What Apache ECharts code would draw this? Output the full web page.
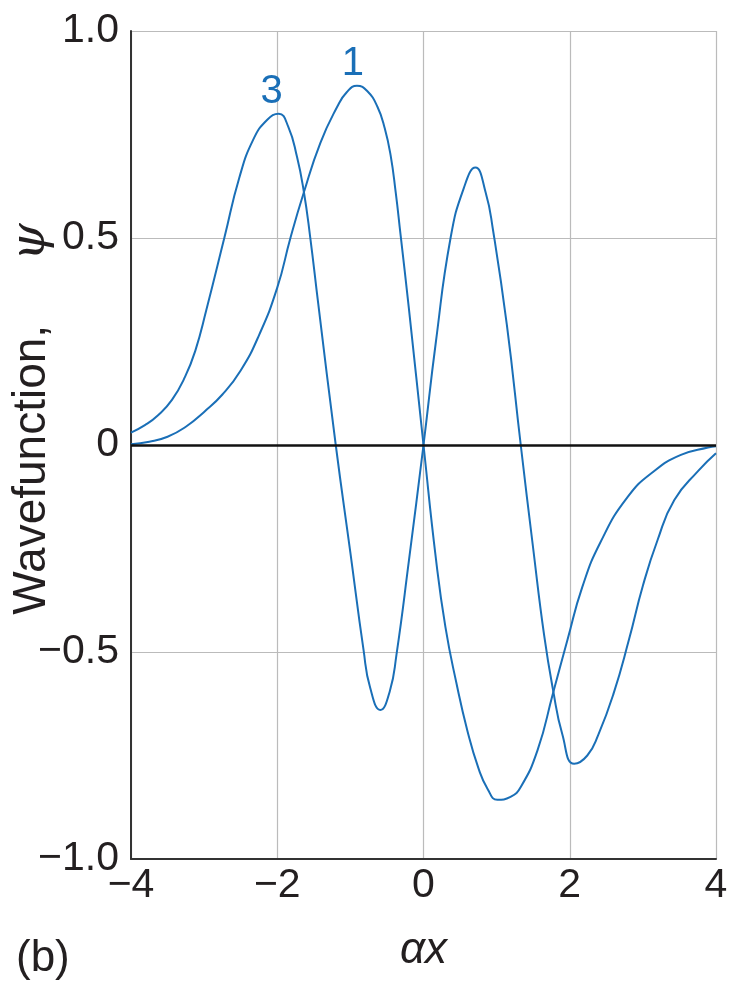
<!DOCTYPE html>
<html lang="en" style="height: 100%">
<head>
  <meta charset="utf-8">
</head>
<body style="height: 100%; margin: 0; background: #fff">
  <div id="container" style="height: 100%"></div>

  <script type="text/javascript" src="https://fastly.jsdelivr.net/npm/echarts@6/dist/echarts.min.js"></script>
  <script type="text/javascript">
// points, [alpha*x, psi]
var curve1 = [
  [-4, 0.002], [-3.75, 0.008], [-3.5, 0.02], [-3.25, 0.044], [-3, 0.08], [-2.75, 0.122],
  [-2.5, 0.18], [-2.25, 0.265], [-2, 0.38], [-1.82, 0.5], [-1.64, 0.608], [-1.41, 0.73],
  [-1.18, 0.817], [-1.05, 0.852], [-0.91, 0.868], [-0.77, 0.855], [-0.63, 0.817], [-0.53, 0.765],
  [-0.45, 0.7], [-0.38, 0.61], [-0.315, 0.51], [-0.2, 0.33], [0, 0], [0.17, -0.275],
  [0.3, -0.44], [0.45, -0.575], [0.6, -0.69], [0.75, -0.78], [0.88, -0.832], [1.01, -0.857],
  [1.19, -0.85], [1.33, -0.826], [1.56, -0.737], [1.77, -0.6], [1.97, -0.47], [2.17, -0.344],
  [2.42, -0.235], [2.79, -0.126], [3.16, -0.062], [3.52, -0.024], [3.89, -0.006], [4, -0.003]
];
var curve3 = [
  [-4, 0.03], [-3.81, 0.048], [-3.63, 0.072], [-3.44, 0.109], [-3.26, 0.165], [-3.12, 0.228],
  [-2.97, 0.326], [-2.72, 0.503], [-2.52, 0.645], [-2.33, 0.737], [-2.14, 0.785], [-1.98, 0.8],
  [-1.85, 0.769], [-1.73, 0.696], [-1.64, 0.616], [-1.55, 0.503], [-1.44, 0.342], [-1.2, 0],
  [-1, -0.26], [-0.82, -0.495], [-0.73, -0.586], [-0.59, -0.64], [-0.46, -0.594], [-0.37, -0.507],
  [-0.2, -0.28], [0, 0], [0.17, 0.25], [0.37, 0.5], [0.55, 0.62], [0.71, 0.67],
  [0.85, 0.61], [0.95, 0.52], [1.14, 0.29], [1.33, 0], [1.5, -0.25], [1.65, -0.46],
  [1.77, -0.59], [1.9, -0.7], [2.06, -0.77], [2.24, -0.75], [2.39, -0.7], [2.6, -0.6],
  [2.81, -0.47], [3, -0.34], [3.2, -0.23], [3.43, -0.133], [3.76, -0.062], [4, -0.02]
];
var peak1 = [-0.91, 0.868];
var peak3 = [-1.98, 0.8];

var xTicks = [-4, -2, 0, 2, 4];
var xTickLabels = ['\u22124', '\u22122', '0', '2', '4'];
var yTicks = [-1, -0.5, 0, 0.5, 1];
var yTickLabels = ['\u22121.0', '\u22120.5', '0', '0.5', '1.0'];

var font = 'Liberation Sans';
var ink = '#231f20';
var blue = '#1a6fb7';

var myChart = echarts.init(document.getElementById('container'), null, { renderer: 'canvas' });

function tickLabel(ticks, labels) {
  return function (v) {
    for (var i = 0; i < ticks.length; i++) {
      if (Math.abs(ticks[i] - v) < 1e-9) return labels[i];
    }
    return '';
  };
}

var option = {
  backgroundColor: '#fff',
  animation: false,
  grid: { left: 131, right: 23, top: 31, bottom: 129, containLabel: false, outerBoundsMode: 'none' },
  xAxis: {
    type: 'value',
    min: -4, max: 4, interval: 2,
    name: '\u03b1x',
    nameLocation: 'middle',
    nameGap: 70,
    nameTextStyle: { fontFamily: font, fontSize: 44, fontStyle: 'italic', color: ink },
    axisLine: { onZero: false, lineStyle: { color: '#333', width: 2 } },
    axisTick: { show: false },
    axisLabel: { fontFamily: font, fontSize: 41, color: ink, margin: 6, formatter: tickLabel(xTicks, xTickLabels) },
    splitLine: { lineStyle: { color: '#bbbbbb', width: 1.2 } }
  },
  yAxis: {
    type: 'value',
    min: -1, max: 1, interval: 0.5,
    axisLine: { onZero: false, lineStyle: { color: '#333', width: 2 } },
    axisTick: { show: false },
    axisLabel: { fontFamily: font, fontSize: 41, color: ink, margin: 12, formatter: tickLabel(yTicks, yTickLabels) },
    splitLine: { lineStyle: { color: '#bbbbbb', width: 1.2 } }
  },
  series: [
    {
      name: '1',
      type: 'line',
      data: curve1,
      smooth: 0.5,
      showSymbol: false,
      lineStyle: { color: blue, width: 2 },
      markLine: {
        silent: true,
        symbol: ['none', 'none'],
        label: { show: false },
        lineStyle: { color: '#111', width: 2.5, type: 'solid' },
        data: [{ yAxis: 0 }]
      },
      markPoint: {
        symbol: 'circle',
        symbolSize: 0,
        label: { show: true, formatter: '1', fontFamily: font, fontSize: 40, color: blue, offset: [-4, -22] },
        data: [{ coord: peak1 }]
      }
    },
    {
      name: '3',
      type: 'line',
      data: curve3,
      smooth: 0.5,
      showSymbol: false,
      lineStyle: { color: blue, width: 2 },
      markPoint: {
        symbol: 'circle',
        symbolSize: 0,
        label: { show: true, formatter: '3', fontFamily: font, fontSize: 40, color: blue, offset: [-7, -22] },
        data: [{ coord: peak3 }]
      }
    }
  ],
  graphic: [
    {
      // y axis title, drawn as text so the gap before psi can match
      type: 'text',
      x: 32,
      y: 419,
      rotation: Math.PI / 2,
      style: {
        text: 'Wavefunction,     {i|\u03c8}',
        font: '46px "Liberation Sans"',
        fill: ink,
        align: 'center',
        verticalAlign: 'middle',
        rich: { i: { fontFamily: 'DejaVu Serif', fontStyle: 'italic', fontSize: 48, fill: ink } }
      }
    },
    {
      type: 'text',
      left: 16,
      top: 937,
      style: { text: '(b)', font: '44px "Liberation Sans"', fill: ink }
    }
  ]
};

myChart.setOption(option);
window.addEventListener('resize', myChart.resize);
  </script>
</body>
</html>
